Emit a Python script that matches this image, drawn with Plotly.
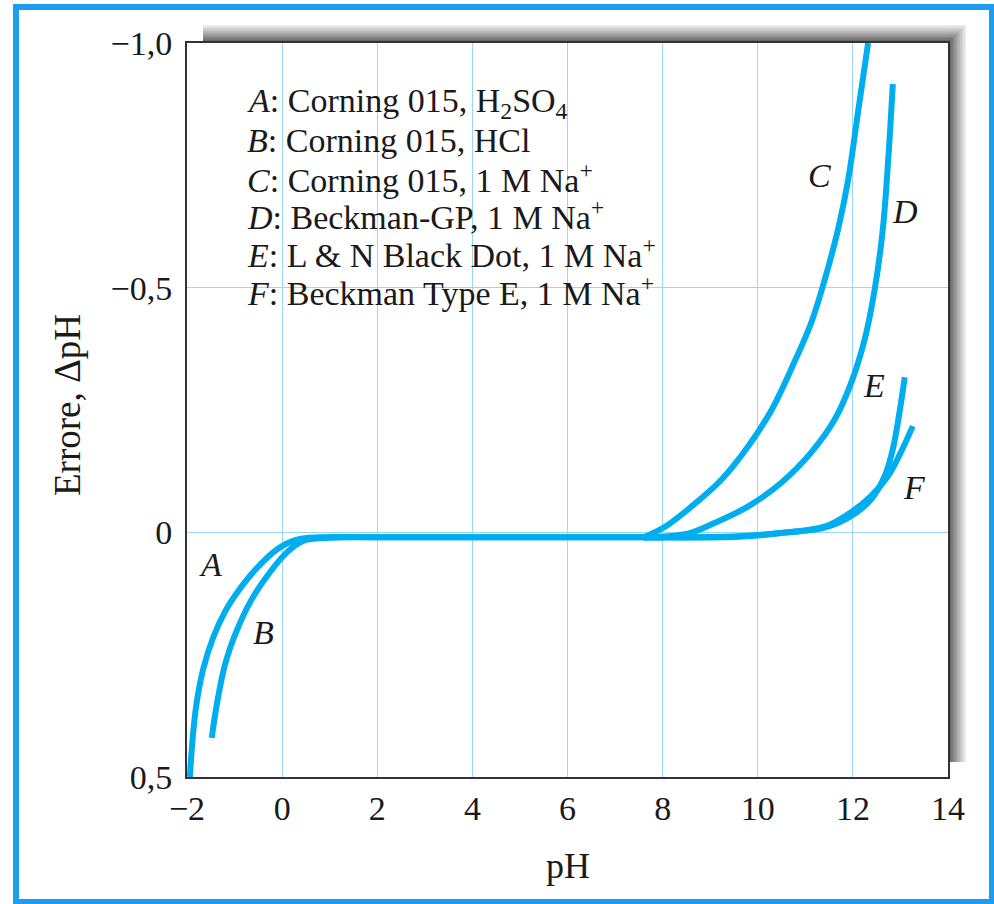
import plotly.graph_objects as go

# ---------------- data ----------------
ph_A = [-1.94, -1.88, -1.80, -1.66, -1.45, -1.20, -0.90, -0.55, -0.11, 0.31, 0.8, 2.0, 4.0, 6.0, 8.0]
err_A = [0.50, 0.42, 0.35, 0.28, 0.215, 0.162, 0.117, 0.075, 0.035, 0.015, 0.01, 0.01, 0.01, 0.01, 0.01]

ph_B = [-1.48, -1.37, -1.20, -0.95, -0.64, -0.26, 0.10, 0.43, 1.0, 2.0, 4.0, 6.0, 8.0]
err_B = [0.42, 0.35, 0.27, 0.20, 0.137, 0.082, 0.041, 0.018, 0.011, 0.01, 0.01, 0.01, 0.01]

ph_C = [7.6, 8.06, 8.61, 9.24, 9.80, 10.29, 10.78, 11.13, 11.41, 11.69, 11.90, 12.11, 12.32]
err_C = [0.01, -0.012, -0.053, -0.108, -0.176, -0.25, -0.35, -0.43, -0.517, -0.62, -0.72, -0.86, -1.00]

ph_D = [7.6, 8.55, 9.11, 9.80, 10.50, 11.13, 11.62, 11.97, 12.25, 12.46, 12.63, 12.74, 12.84]
err_D = [0.01, 0.002, -0.020, -0.053, -0.102, -0.164, -0.231, -0.307, -0.395, -0.497, -0.62, -0.757, -0.916]

ph_E = [7.6, 9.6, 10.64, 11.42, 11.96, 12.38, 12.67, 12.84, 12.98, 13.09]
err_E = [0.01, 0.008, 0.0, -0.010, -0.033, -0.067, -0.115, -0.17, -0.245, -0.317]

ph_F = [7.6, 9.6, 10.64, 11.42, 11.96, 12.38, 12.74, 13.01, 13.26]
err_F = [0.01, 0.009, 0.0, -0.012, -0.041, -0.074, -0.115, -0.164, -0.217]

x_ticks = [-2, 0, 2, 4, 6, 8, 10, 12, 14]
x_ticktext = ["\u22122", "0", "2", "4", "6", "8", "10", "12", "14"]
y_ticks = [-1.0, -0.5, 0.0, 0.5]
y_ticktext = ["\u22121,0", "\u22120,5", "0", "0,5"]

legend_lines = [
    "<i>A</i>: Corning 015, H<sub>2</sub>SO<sub>4</sub>",
    "<i>B</i>: Corning 015, HCl",
    "<i>C</i>: Corning 015, 1 M Na<sup>+</sup>",
    "<i>D</i>: Beckman-GP, 1 M Na<sup>+</sup>",
    "<i>E</i>: L &amp; N Black Dot, 1 M Na<sup>+</sup>",
    "<i>F</i>: Beckman Type E, 1 M Na<sup>+</sup>",
]
curve_labels = ["A", "B", "C", "D", "E", "F"]
curve_label_ph = [-1.5, -0.4, 11.3, 13.1, 12.45, 13.3]
curve_label_err = [0.065, 0.205, -0.73, -0.655, -0.3, -0.092]

# ---------------- layout geometry (pixels) ----------------
W, H = 994, 904
L, R, T, B = 187, 948, 43, 777
PW, PH = R - L, B - T


def px(x):
    return (x - L) / PW


def py(y):
    return (B - y) / PH


SERIF = "Liberation Serif, Times New Roman, serif"
LINE_COLOR = "#00AEEF"
GRID_COLOR = "#98DAF5"
TXT = "#1a1a1a"

fig = go.Figure()
series = [(ph_A, err_A), (ph_B, err_B), (ph_C, err_C), (ph_D, err_D), (ph_E, err_E), (ph_F, err_F)]
for (xs, ys), name in zip(series, curve_labels):
    fig.add_trace(go.Scatter(
        x=xs, y=ys, mode="lines", name=name,
        line=dict(color=LINE_COLOR, width=6, shape="spline", smoothing=1.0),
        showlegend=False, hoverinfo="skip",
    ))

shapes = []
# drop shadow bands (top and right) with a gradient made of nested strips
n = 12
for k in range(n + 1):
    d = 18 * (1 - k / n)
    if d <= 0:
        continue
    t = k / n
    g = int(238 - (238 - 80) * t)
    col = f"rgb({g},{g},{g})"
    shapes.append(dict(
        type="rect", xref="paper", yref="paper", layer="below",
        x0=px(203), x1=px(R + d), y0=py(T), y1=py(T - d),
        line=dict(width=0), fillcolor=col,
    ))
    shapes.append(dict(
        type="rect", xref="paper", yref="paper", layer="below",
        x0=px(R), x1=px(R + d), y0=py(762), y1=py(T - d),
        line=dict(width=0), fillcolor=col,
    ))
# outer blue frame
shapes.append(dict(
    type="rect", xref="paper", yref="paper", layer="above",
    x0=px(16), x1=px(992), y0=py(902), y1=py(7),
    line=dict(width=6, color="#1C9DF2"), fillcolor="rgba(0,0,0,0)",
))

annotations = []
for i, txt in enumerate(legend_lines):
    annotations.append(dict(
        xref="paper", yref="paper", x=px(245), y=py(103 + 37.5 * i),
        xanchor="left", yanchor="middle", text=txt, showarrow=False,
        font=dict(family=SERIF, size=34, color=TXT),
    ))
for lab, lx, ly in zip(curve_labels, curve_label_ph, curve_label_err):
    annotations.append(dict(
        x=lx, y=ly, xref="x", yref="y", text=f"<i>{lab}</i>", showarrow=False,
        xanchor="center", yanchor="middle",
        font=dict(family=SERIF, size=34, color=TXT),
    ))
annotations.append(dict(
    xref="paper", yref="paper", x=px(568), y=py(866), text="pH", showarrow=False,
    xanchor="center", yanchor="middle",
    font=dict(family=SERIF, size=36, color=TXT),
))
annotations.append(dict(
    xref="paper", yref="paper", x=px(68), y=py(405), text="Errore, \u0394pH", showarrow=False,
    xanchor="center", yanchor="middle",
    textangle=-90, font=dict(family=SERIF, size=37, color=TXT),
))

fig.update_layout(
    width=W, height=H,
    margin=dict(l=L, r=W - R, t=T, b=H - B, pad=0),
    paper_bgcolor="white", plot_bgcolor="white",
    shapes=shapes, annotations=annotations,
    xaxis=dict(
        range=[-2, 14], tickvals=x_ticks, ticktext=x_ticktext,
        showgrid=True, gridcolor=GRID_COLOR, gridwidth=1, zeroline=False,
        showline=True, linecolor="#333333", linewidth=2, mirror=True,
        ticks="", ticklabelstandoff=0,
        tickfont=dict(family=SERIF, size=34, color=TXT),
    ),
    yaxis=dict(
        range=[0.5, -1.0], tickvals=y_ticks, ticktext=y_ticktext,
        showgrid=True, gridcolor=GRID_COLOR, gridwidth=1, zeroline=False,
        showline=True, linecolor="#333333", linewidth=2, mirror=True,
        ticks="", ticklabelstandoff=6,
        tickfont=dict(family=SERIF, size=34, color=TXT),
    ),
)

fig.write_html("out.html")
